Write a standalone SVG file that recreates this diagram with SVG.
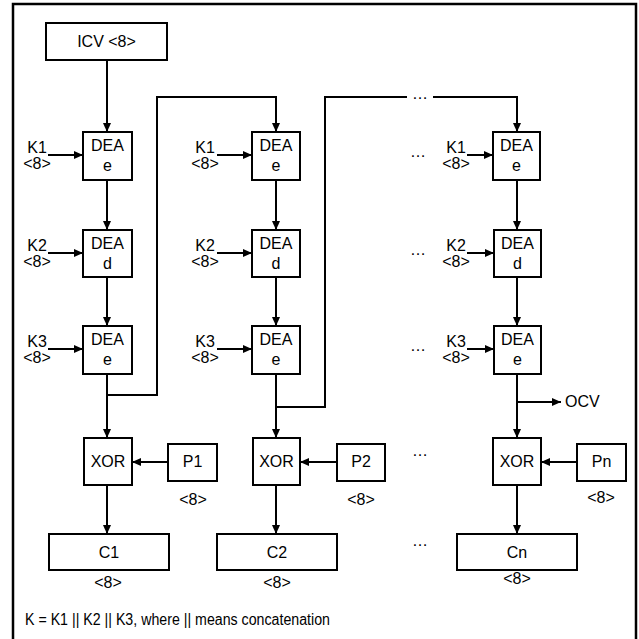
<svg xmlns="http://www.w3.org/2000/svg" width="639" height="639" viewBox="0 0 639 639">
<style>
text{font-family:"Liberation Sans",Arial,sans-serif;font-size:16px;fill:#000}
.c{text-anchor:middle}
.box{fill:#fff;stroke:#000;stroke-width:2}
.ln{fill:none;stroke:#000;stroke-width:2}
</style>
<defs>
<marker id="ah" markerWidth="10" markerHeight="10" refX="9" refY="5" orient="auto" markerUnits="userSpaceOnUse"><path d="M0,1 L9,5 L0,9 z" fill="#000"/></marker>
</defs>
<rect width="639" height="639" fill="#fff"/>
<path d="M13,640 V4 H636 V640" fill="none" stroke="#000" stroke-width="2.5"/>

<g id="connectors" class="ln">
<path class="ln" d="M107,60 V132" marker-end="url(#ah)"/>
<path class="ln" d="M107,180 V230" marker-end="url(#ah)"/>
<path class="ln" d="M107,277 V326" marker-end="url(#ah)"/>
<path class="ln" d="M107,374 V438" marker-end="url(#ah)"/>
<path class="ln" d="M107,395 H157 V97 H276 V132" marker-end="url(#ah)"/>
<path class="ln" d="M107,485 V534" marker-end="url(#ah)"/>
<path class="ln" d="M168,462 H132" marker-end="url(#ah)"/>
<path class="ln" d="M48,155 H83" marker-end="url(#ah)"/>
<path class="ln" d="M48,253 H83" marker-end="url(#ah)"/>
<path class="ln" d="M48,349 H83" marker-end="url(#ah)"/>

<path class="ln" d="M276,180 V230" marker-end="url(#ah)"/>
<path class="ln" d="M276,277 V326" marker-end="url(#ah)"/>
<path class="ln" d="M276,374 V438" marker-end="url(#ah)"/>
<path class="ln" d="M276,407 H325 V97 H407"/>
<path class="ln" d="M433,97 H517 V132" marker-end="url(#ah)"/>
<path class="ln" d="M276,485 V534" marker-end="url(#ah)"/>
<path class="ln" d="M337,462 H300" marker-end="url(#ah)"/>
<path class="ln" d="M217,155 H252" marker-end="url(#ah)"/>
<path class="ln" d="M217,253 H252" marker-end="url(#ah)"/>
<path class="ln" d="M217,349 H252" marker-end="url(#ah)"/>

<path class="ln" d="M517,180 V230" marker-end="url(#ah)"/>
<path class="ln" d="M517,277 V326" marker-end="url(#ah)"/>
<path class="ln" d="M517,374 V438" marker-end="url(#ah)"/>
<path class="ln" d="M517,402 H561" marker-end="url(#ah)"/>
<path class="ln" d="M517,485 V534" marker-end="url(#ah)"/>
<path class="ln" d="M577,462 H541" marker-end="url(#ah)"/>
<path class="ln" d="M467,155 H493" marker-end="url(#ah)"/>
<path class="ln" d="M467,253 H494" marker-end="url(#ah)"/>
<path class="ln" d="M467,349 H494" marker-end="url(#ah)"/>
</g>

<g id="icv"><rect class="box" x="46" y="23" width="121" height="37"/><text class="c" x="106.5" y="47">ICV &lt;8&gt;</text></g>

<g id="dea1e"><rect class="box" x="83" y="132" width="49" height="48"/><text class="c" x="107.5" y="151">DEA</text><text class="c" x="107.5" y="171">e</text></g>
<g id="dea1d"><rect class="box" x="83" y="230" width="49" height="47"/><text class="c" x="107.5" y="249">DEA</text><text class="c" x="107.5" y="269">d</text></g>
<g id="dea1e2"><rect class="box" x="83" y="326" width="49" height="48"/><text class="c" x="107.5" y="345">DEA</text><text class="c" x="107.5" y="365">e</text></g>
<g id="k1a"><text class="c" x="37" y="153">K1</text><text class="c" x="37" y="169">&lt;8&gt;</text></g>
<g id="k2a"><text class="c" x="37" y="251">K2</text><text class="c" x="37" y="267">&lt;8&gt;</text></g>
<g id="k3a"><text class="c" x="37" y="347">K3</text><text class="c" x="37" y="363">&lt;8&gt;</text></g>
<g id="xor1"><rect class="box" x="84" y="438" width="48" height="47"/><text class="c" x="108" y="467">XOR</text></g>
<g id="p1"><rect class="box" x="168" y="444" width="49" height="37"/><text class="c" x="192.5" y="467">P1</text><text class="c" x="193" y="505">&lt;8&gt;</text></g>
<g id="c1"><rect class="box" x="49" y="534" width="120" height="36"/><text class="c" x="109" y="558">C1</text><text class="c" x="108" y="588">&lt;8&gt;</text></g>

<g id="dea2e"><rect class="box" x="252" y="132" width="48" height="48"/><text class="c" x="276" y="151">DEA</text><text class="c" x="276" y="171">e</text></g>
<g id="dea2d"><rect class="box" x="252" y="230" width="48" height="47"/><text class="c" x="276" y="249">DEA</text><text class="c" x="276" y="269">d</text></g>
<g id="dea2e2"><rect class="box" x="252" y="326" width="48" height="48"/><text class="c" x="276" y="345">DEA</text><text class="c" x="276" y="365">e</text></g>
<g id="k1b"><text class="c" x="205" y="153">K1</text><text class="c" x="205" y="169">&lt;8&gt;</text></g>
<g id="k2b"><text class="c" x="205" y="251">K2</text><text class="c" x="205" y="267">&lt;8&gt;</text></g>
<g id="k3b"><text class="c" x="205" y="347">K3</text><text class="c" x="205" y="363">&lt;8&gt;</text></g>
<g id="xor2"><rect class="box" x="253" y="438" width="47" height="47"/><text class="c" x="276.5" y="467">XOR</text></g>
<g id="p2"><rect class="box" x="337" y="444" width="48" height="37"/><text class="c" x="361" y="467">P2</text><text class="c" x="361" y="505">&lt;8&gt;</text></g>
<g id="c2"><rect class="box" x="217" y="534" width="120" height="36"/><text class="c" x="277" y="558">C2</text><text class="c" x="277" y="588">&lt;8&gt;</text></g>

<g id="dea3e"><rect class="box" x="493" y="132" width="47" height="48"/><text class="c" x="516.5" y="151">DEA</text><text class="c" x="516.5" y="171">e</text></g>
<g id="dea3d"><rect class="box" x="494" y="230" width="47" height="47"/><text class="c" x="517.5" y="249">DEA</text><text class="c" x="517.5" y="269">d</text></g>
<g id="dea3e2"><rect class="box" x="494" y="326" width="47" height="48"/><text class="c" x="517.5" y="345">DEA</text><text class="c" x="517.5" y="365">e</text></g>
<g id="k1c"><text class="c" x="456" y="153">K1</text><text class="c" x="456" y="169">&lt;8&gt;</text></g>
<g id="k2c"><text class="c" x="456" y="251">K2</text><text class="c" x="456" y="267">&lt;8&gt;</text></g>
<g id="k3c"><text class="c" x="456" y="347">K3</text><text class="c" x="456" y="363">&lt;8&gt;</text></g>
<g id="xor3"><rect class="box" x="493" y="438" width="48" height="47"/><text class="c" x="517" y="467">XOR</text></g>
<g id="pn"><rect class="box" x="577" y="444" width="49" height="37"/><text class="c" x="601.5" y="467">Pn</text><text class="c" x="601" y="503">&lt;8&gt;</text></g>
<g id="cn"><rect class="box" x="457" y="534" width="120" height="36"/><text class="c" x="517" y="558">Cn</text><text class="c" x="517" y="584">&lt;8&gt;</text></g>
<g id="ocv"><text x="565" y="407">OCV</text></g>

<g id="dots">
<text class="c" x="420" y="99">…</text>
<text class="c" x="418" y="157">…</text>
<text class="c" x="418" y="255">…</text>
<text class="c" x="418" y="351">…</text>
<text class="c" x="420" y="456">…</text>
<text class="c" x="420" y="546">…</text>
</g>
<text x="25" y="625" textLength="305" lengthAdjust="spacingAndGlyphs">K = K1 || K2 || K3, where || means concatenation</text>
</svg>
